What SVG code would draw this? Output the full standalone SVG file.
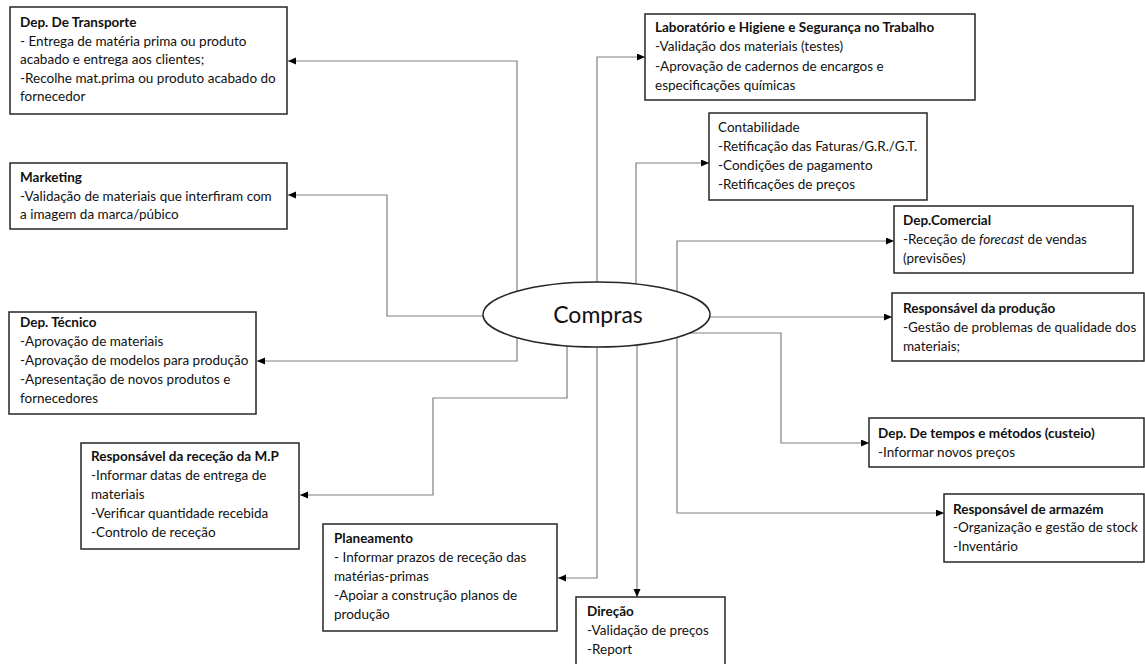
<svg xmlns="http://www.w3.org/2000/svg" width="1145" height="664" viewBox="0 0 1145 664">
<defs>
<marker id="arr" markerUnits="userSpaceOnUse" markerWidth="8" markerHeight="8" refX="8" refY="3.5" orient="auto">
<path d="M0,0 L8,3.5 L0,7 z" fill="#000"/>
</marker>
<style>
.box{fill:#fff;stroke:#262626;stroke-width:1.5}
.t{font-family:Lato,"Liberation Sans",sans-serif;font-size:13.5px;fill:#111}
.b{font-weight:bold}
.c{fill:none;stroke:#808080;stroke-width:1.2;marker-end:url(#arr)}
</style>
</defs>
<rect width="1145" height="664" fill="#fff"/>
<g id="connectors">
<path class="c" d="M517,314 V61 H288"/>
<path class="c" d="M485,316 H387 V195 H288"/>
<path class="c" d="M517,314 V361 H257"/>
<path class="c" d="M567,314 V398 H433 V495 H300"/>
<path class="c" d="M597,314 V578 H558"/>
<path class="c" d="M637,314 V597"/>
<path class="c" d="M597,314 V57 H645"/>
<path class="c" d="M636,314 V163 H709"/>
<path class="c" d="M677,314 V241 H894"/>
<path class="c" d="M700,317 H892"/>
<path class="c" d="M650,333 H781 V443 H869"/>
<path class="c" d="M677,314 V513 H944"/>
</g>
<g id="compras">
<ellipse cx="596.5" cy="314.5" rx="113.5" ry="32.5" fill="#fff" stroke="#262626" stroke-width="1.5"/>
<text x="598" y="323" text-anchor="middle" font-family="Lato,'Liberation Sans',sans-serif" font-size="23" fill="#111">Compras</text>
</g>
<g id="transporte">
<rect class="box" x="10" y="7" width="277" height="107"/>
<text class="t b" x="20" y="27">Dep. De Transporte</text>
<text class="t" x="20" y="46">- Entrega de matéria prima ou produto</text>
<text class="t" x="20" y="64">acabado e entrega aos clientes;</text>
<text class="t" x="20" y="82.5">-Recolhe mat.prima ou produto acabado do</text>
<text class="t" x="20" y="101">fornecedor</text>
</g>
<g id="marketing">
<rect class="box" x="10" y="163" width="277" height="66"/>
<text class="t b" x="20" y="182">Marketing</text>
<text class="t" x="20" y="200.5">-Validação de materiais que interfiram com</text>
<text class="t" x="20" y="219">a imagem da marca/púbico</text>
</g>
<g id="tecnico">
<rect class="box" x="9" y="312" width="247" height="102"/>
<text class="t b" x="20" y="327">Dep. Técnico</text>
<text class="t" x="20" y="346">-Aprovação de materiais</text>
<text class="t" x="20" y="365">-Aprovação de modelos para produção</text>
<text class="t" x="20" y="384">-Apresentação de novos produtos e</text>
<text class="t" x="20" y="403">fornecedores</text>
</g>
<g id="rececao">
<rect class="box" x="81" y="443" width="218" height="106"/>
<text class="t b" x="91" y="461">Responsável da receção da M.P</text>
<text class="t" x="91" y="480">-Informar datas de entrega de</text>
<text class="t" x="91" y="499">materiais</text>
<text class="t" x="91" y="518">-Verificar quantidade recebida</text>
<text class="t" x="91" y="537">-Controlo de receção</text>
</g>
<g id="planeamento">
<rect class="box" x="323" y="524" width="234" height="107"/>
<text class="t b" x="334" y="543">Planeamento</text>
<text class="t" x="334" y="562">- Informar prazos de receção das</text>
<text class="t" x="334" y="581">matérias-primas</text>
<text class="t" x="334" y="600">-Apoiar a construção planos de</text>
<text class="t" x="334" y="619">produção</text>
</g>
<g id="direcao">
<rect class="box" x="576" y="597" width="149" height="75"/>
<text class="t b" x="587" y="616">Direção</text>
<text class="t" x="587" y="635">-Validação de preços</text>
<text class="t" x="587" y="654">-Report</text>
</g>
<g id="laboratorio">
<rect class="box" x="645" y="14" width="330" height="86"/>
<text class="t b" x="655" y="32">Laboratório e Higiene e Segurança no Trabalho</text>
<text class="t" x="655" y="51">-Validação dos materiais (testes)</text>
<text class="t" x="655" y="70.5">-Aprovação de cadernos de encargos e</text>
<text class="t" x="655" y="90">especificações químicas</text>
</g>
<g id="contabilidade">
<rect class="box" x="709" y="113" width="218" height="87"/>
<text class="t" x="718" y="132">Contabilidade</text>
<text class="t" x="718" y="151">-Retificação das Faturas/G.R./G.T.</text>
<text class="t" x="718" y="170">-Condições de pagamento</text>
<text class="t" x="718" y="189">-Retificações de preços</text>
</g>
<g id="comercial">
<rect class="box" x="894" y="206" width="239" height="67"/>
<text class="t b" x="903" y="225">Dep.Comercial</text>
<text class="t" x="903" y="244">-Receção de <tspan font-style="italic">forecast</tspan> de vendas</text>
<text class="t" x="903" y="263">(previsões)</text>
</g>
<g id="producao">
<rect class="box" x="892" y="293" width="252" height="68"/>
<text class="t b" x="903" y="313">Responsável da produção</text>
<text class="t" x="903" y="332">-Gestão de problemas de qualidade dos</text>
<text class="t" x="903" y="351">materiais;</text>
</g>
<g id="tempos">
<rect class="box" x="869" y="418" width="275" height="49"/>
<text class="t b" x="878" y="438">Dep. De tempos e métodos (custeio)</text>
<text class="t" x="878" y="457">-Informar novos preços</text>
</g>
<g id="armazem">
<rect class="box" x="944" y="494" width="200" height="68"/>
<text class="t b" x="953" y="514">Responsável de armazém</text>
<text class="t" x="953" y="532">-Organização e gestão de stock</text>
<text class="t" x="953" y="551">-Inventário</text>
</g>
</svg>
